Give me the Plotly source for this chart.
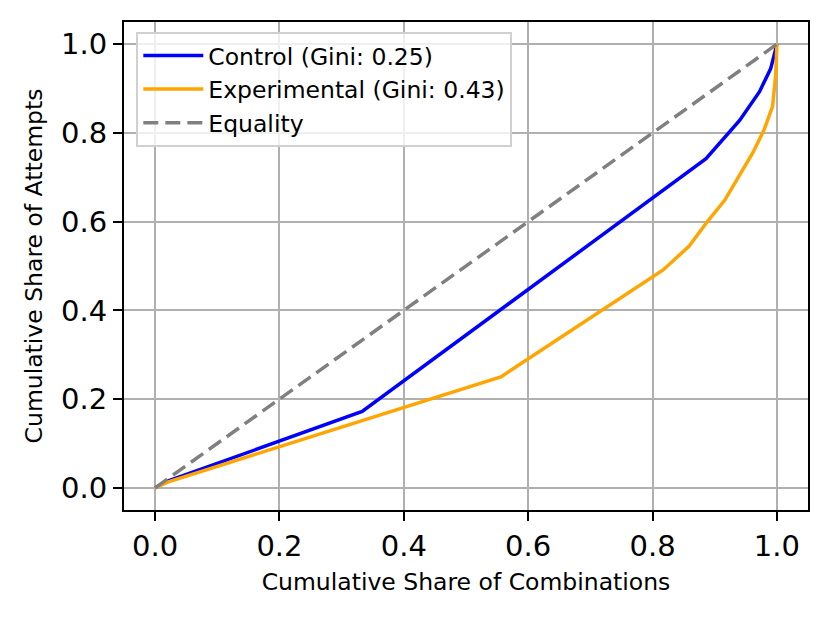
import plotly.graph_objects as go

# Lorenz curve points
control_x = [0, 0.02, 0.333, 0.886, 0.94, 0.972, 0.99, 1.0]
control_y = [0, 0.015, 0.172, 0.742, 0.828, 0.893, 0.945, 1.0]

experimental_x = [0, 0.02, 0.556, 0.817, 0.859, 0.887, 0.916, 0.962, 0.98, 0.993, 0.998, 1.0]
experimental_y = [0, 0.013, 0.25, 0.491, 0.545, 0.598, 0.648, 0.757, 0.809, 0.86, 0.93, 1.0]

equality_x = [0, 1]
equality_y = [0, 1]

control_gini = 0.25
experimental_gini = 0.43

tick_vals = [0.0, 0.2, 0.4, 0.6, 0.8, 1.0]
tick_text = ["0.0", "0.2", "0.4", "0.6", "0.8", "1.0"]

fig = go.Figure()
fig.add_trace(go.Scatter(
    x=control_x, y=control_y, mode="lines",
    name=f"Control (Gini: {control_gini:.2f})",
    line=dict(color="blue", width=3.5),
))
fig.add_trace(go.Scatter(
    x=experimental_x, y=experimental_y, mode="lines",
    name=f"Experimental (Gini: {experimental_gini:.2f})",
    line=dict(color="orange", width=3.5),
))
fig.add_trace(go.Scatter(
    x=equality_x, y=equality_y, mode="lines",
    name="Equality",
    line=dict(color="gray", width=3.5, dash="15px,7px"),
))

axis_style = dict(
    range=[-0.05, 1.05],
    tickvals=tick_vals,
    ticktext=tick_text,
    showgrid=True,
    gridcolor="#b0b0b0",
    gridwidth=1.6,
    zeroline=False,
    showline=True,
    linecolor="black",
    linewidth=2,
    mirror=True,
    ticks="outside",
    ticklen=9,
    tickwidth=2,
    tickcolor="black",
    tickfont=dict(size=29, color="black"),
)

# the page body adds an 8px offset, so margins are shifted to compensate
fig.update_layout(
    width=831,
    height=618,
    margin=dict(l=116, r=31, t=12, b=116),
    paper_bgcolor="white",
    plot_bgcolor="white",
    font=dict(family="DejaVu Sans", color="black"),
    xaxis=dict(axis_style, title=dict(text="Cumulative Share of Combinations",
                                      font=dict(size=23.5), standoff=12)),
    yaxis=dict(axis_style, title=dict(text="Cumulative Share of Attempts",
                                      font=dict(size=23.5), standoff=12)),
    legend=dict(
        x=0.018, y=0.98, xanchor="left", yanchor="top",
        bgcolor="rgba(255,255,255,0.8)",
        bordercolor="#d0d0d0", borderwidth=2,
        font=dict(size=23.5),
        itemwidth=60,
        tracegroupgap=0,
    ),
    showlegend=True,
)

fig.write_html("out.html")
